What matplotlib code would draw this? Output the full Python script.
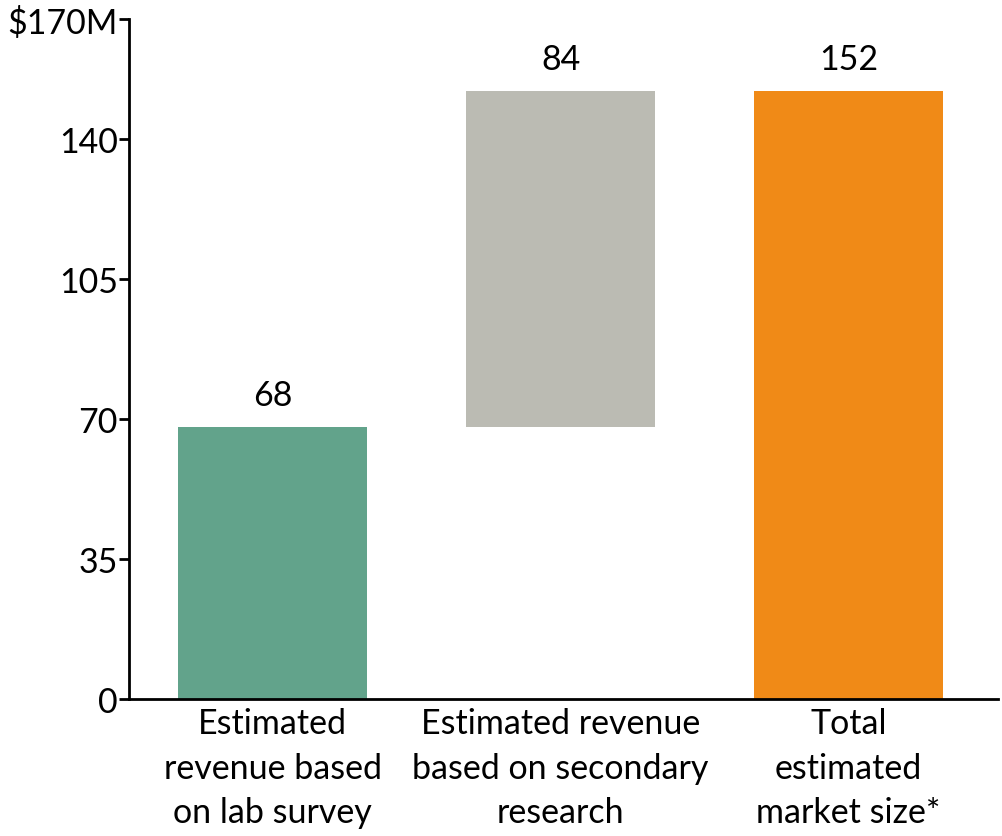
import numpy as np
import matplotlib.pyplot as plt

plt.rcParams['font.family'] = ['Lato', 'DejaVu Sans']

categories = ['Estimated\nrevenue based\non lab survey',
              'Estimated revenue\nbased on secondary\nresearch',
              'Total\nestimated\nmarket size*']
steps = [68, 84]
total = sum(steps)
colors = ['#62A38B', '#BBBBB3', '#F08A17']
yticks = [0, 35, 70, 105, 140, 170]
yticklabels = ['0', '35', '70', '105', '140', '$170M']

heights = steps + [total]
bottoms = [0, steps[0], 0]

fig = plt.figure(figsize=(10.02, 8.37), dpi=100)
ax = fig.add_axes([0.1287, 0.1637, 0.8673, 0.8123])

x = np.arange(len(categories))
ax.bar(x, heights, bottom=bottoms, width=0.656, color=colors)
for xi, h, b in zip(x, heights, bottoms):
    ax.text(xi, b + h + 4, str(h), ha='center', va='bottom', fontsize=24.5)

ax.set_xlim(-0.5, 2.52)
ax.set_ylim(0, 170)
ax.set_yticks(yticks)
ax.set_yticklabels(yticklabels, fontsize=24.5)
ax.set_xticks(x)
ax.set_xticklabels(categories, fontsize=24.5, linespacing=1.48)
ax.tick_params(axis='x', length=0, pad=6)
ax.tick_params(axis='y', length=7, width=2, pad=1)
for s in ['top', 'right']:
    ax.spines[s].set_visible(False)
for s in ['left', 'bottom']:
    ax.spines[s].set_linewidth(2)

fig.savefig('out.png', dpi=100)
